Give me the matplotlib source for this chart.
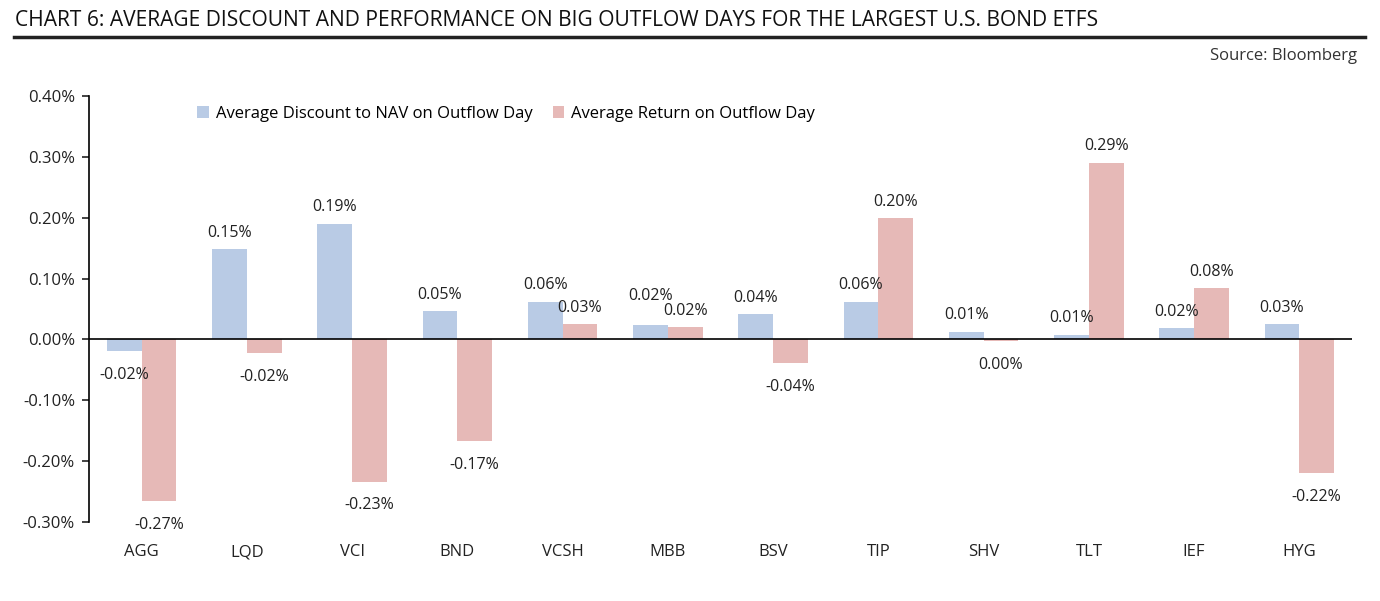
import numpy as np
import matplotlib
matplotlib.use("Agg")
import matplotlib.pyplot as plt
from matplotlib.ticker import FuncFormatter

plt.rcParams["font.family"] = ["Open Sans", "DejaVu Sans"]

tickers = ["AGG", "LQD", "VCI", "BND", "VCSH", "MBB", "BSV", "TIP", "SHV", "TLT", "IEF", "HYG"]
# values in percent
discount = [-0.0197, 0.148, 0.19, 0.046, 0.062, 0.023, 0.041, 0.062, 0.013, 0.008, 0.018, 0.025]
returns = [-0.266, -0.023, -0.234, -0.167, 0.025, 0.02, -0.039, 0.199, -0.003, 0.29, 0.084, -0.22]
yticks = [-0.30, -0.20, -0.10, 0.00, 0.10, 0.20, 0.30, 0.40]

blue = "#b9cbe5"
red = "#e6b9b7"

fig = plt.figure(figsize=(13.8, 6.01), dpi=100)
ax = fig.add_axes([89/1380, 1-522/601, (1352-89)/1380, (522-96)/601])

x = np.arange(len(tickers))
w = 0.33
b1 = ax.bar(x - w/2, discount, w, color=blue, label="Average Discount to NAV on Outflow Day")
b2 = ax.bar(x + w/2, returns, w, color=red, label="Average Return on Outflow Day")

for series, (bars, vals) in enumerate(((b1, discount), (b2, returns))):
    for i, (b, v) in enumerate(zip(bars, vals)):
        cx = b.get_x() + b.get_width()/2
        txt = f"{v:.2f}%"
        if txt == "-0.00%":
            txt = "0.00%"
        dy = 12 if v >= 0 else -17
        # MBB labels collide, the blue one sits higher in the original
        if series == 0 and tickers[i] == "MBB":
            dy += 9
        ax.annotate(txt, (cx, v), xytext=(0, dy), textcoords="offset points",
                    ha="center", va="center", fontsize=11.5, color="#222222")

ax.axhline(0, color="black", lw=1.2)
ax.set_xlim(-0.5, len(tickers) - 0.5)
ax.set_ylim(-0.30, 0.40)
ax.set_yticks(yticks)
ax.yaxis.set_major_formatter(FuncFormatter(lambda v, p: f"{v:.2f}%"))
ax.set_xticks(x)
ax.set_xticklabels(tickers)
ax.tick_params(axis="x", length=0, pad=16, labelsize=12, colors="#222222")
ax.tick_params(axis="y", length=5, width=1.2, pad=5, labelsize=12, colors="#222222", direction="out")
for s in ["top", "right", "bottom"]:
    ax.spines[s].set_visible(False)
ax.spines["left"].set_linewidth(1.2)
ax.patch.set_alpha(0)

ax.legend(loc="upper left", bbox_to_anchor=(0.074, 1.012), ncol=2, frameon=False, fontsize=12,
          handlelength=0.7, handleheight=0.7, handletextpad=0.4, columnspacing=1.2)

fig.text(15/1380, 1-20/601, "CHART 6: AVERAGE DISCOUNT AND PERFORMANCE ON BIG OUTFLOW DAYS FOR THE LARGEST U.S. BOND ETFS",
         ha="left", va="center", fontsize=15.1, color="#111111")
fig.add_artist(plt.Line2D([14/1380, 1365/1380], [1-37/601, 1-37/601], color="#222222", lw=2.5))
fig.text(1357/1380, 1-56/601, "Source: Bloomberg", ha="right", va="center", fontsize=12, color="#333333")

fig.savefig("out.png", dpi=100)
